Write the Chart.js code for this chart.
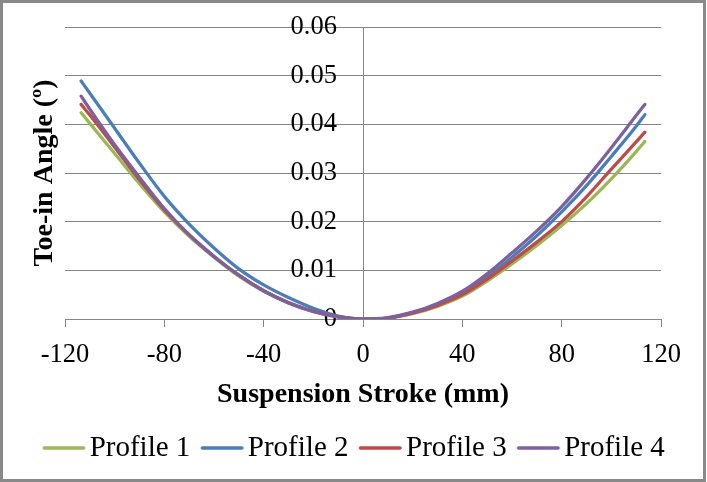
<!DOCTYPE html>
<html><head><meta charset="utf-8">
<script src="https://cdn.jsdelivr.net/npm/chart.js@4.4.0/dist/chart.umd.min.js"></script>
<style>
html,body{margin:0;padding:0;background:#fff;}
#wrap{position:relative;width:707px;height:482px;overflow:hidden;}
#frame{position:absolute;left:0;top:0;width:706px;height:482px;box-sizing:border-box;border:3px solid #898989;pointer-events:none;}
canvas{display:block;}
</style></head><body>
<div id="wrap"><canvas id="c" width="707" height="482"></canvas><div id="frame"></div></div>
<script>
const strokeMm = [-113.5,-110,-100,-90,-80,-70,-60,-50,-40,-30,-20,-10,0,10,20,30,40,50,60,70,80,90,100,110,113.5];
const profile1 = [0.0424,0.0402,0.0340,0.0278,0.0220,0.0170,0.0127,0.0088,0.0057,0.0033,0.0016,0.0005,0.0000,0.0002,0.0011,0.0026,0.0047,0.0078,0.0113,0.0151,0.0192,0.0237,0.0288,0.0344,0.0365];
const profile2 = [0.0489,0.0464,0.0392,0.0320,0.0252,0.0195,0.0146,0.0103,0.0070,0.0044,0.0022,0.0006,0.0000,0.0002,0.0013,0.0030,0.0053,0.0087,0.0127,0.0171,0.0220,0.0274,0.0334,0.0396,0.0420];
const profile3 = [0.0441,0.0419,0.0353,0.0286,0.0224,0.0173,0.0129,0.0090,0.0058,0.0034,0.0016,0.0005,0.0000,0.0002,0.0012,0.0028,0.0050,0.0082,0.0119,0.0158,0.0200,0.0251,0.0308,0.0364,0.0384];
const profile4 = [0.0458,0.0431,0.0358,0.0291,0.0227,0.0173,0.0128,0.0090,0.0058,0.0033,0.0015,0.0004,0.0000,0.0003,0.0014,0.0032,0.0057,0.0093,0.0136,0.0181,0.0231,0.0289,0.0352,0.0418,0.0441];
const seriesNames = ['Profile 1','Profile 2','Profile 3','Profile 4'];
const seriesColors = ['#98B954','#4A7EBB','#BE4B48','#7D60A0'];
const xTicks = [-120,-80,-40,0,40,80,120];
const yTicks = [0,0.01,0.02,0.03,0.04,0.05,0.06];

const FONT = '"Liberation Serif", "Times New Roman", serif';
const GRID = '#868686';
const LEGEND_FONT = 29;
const allSeries = [profile1, profile2, profile3, profile4];
const drawOrder = [3, 2, 1, 0];

// legend swatch: a line placed at the left of the legend box
function swatch(color) {
  const c = document.createElement('canvas');
  c.width = 60; c.height = 8;
  const g = c.getContext('2d');
  g.strokeStyle = color; g.lineWidth = 3.5; g.lineCap = 'round';
  g.beginPath(); g.moveTo(15.5, 4); g.lineTo(55, 4); g.stroke();
  return c;
}

const datasets = allSeries.map((vals, k) => ({
  label: seriesNames[k],
  data: strokeMm.map((x, i) => ({x: x, y: vals[i]})),
  borderColor: seriesColors[k],
  backgroundColor: seriesColors[k],
  borderWidth: 3.25,
  pointRadius: 0,
  pointHoverRadius: 0,
  pointStyle: swatch(seriesColors[k]),
  cubicInterpolationMode: 'monotone',
  borderCapStyle: 'round',
  borderJoinStyle: 'round',
  order: drawOrder[k],
  xAxisID: 'x',
  yAxisID: 'y'
}));

new Chart(document.getElementById('c'), {
  type: 'line',
  data: { datasets },
  options: {
    responsive: false,
    animation: false,
    devicePixelRatio: 1,
    layout: { padding: { top: 27, bottom: 9.5, left: 0, right: 0 } },
    plugins: {
      tooltip: { enabled: false },
      legend: {
        position: 'bottom',
        align: 'center',
        labels: {
          usePointStyle: true,
          pointStyleWidth: 33,
          padding: 10,
          color: '#000',
          font: { family: FONT, size: LEGEND_FONT },
          sort: (a, b) => a.datasetIndex - b.datasetIndex
        }
      }
    },
    scales: {
      x: {
        type: 'linear',
        position: 'bottom',
        min: -120, max: 120,
        afterBuildTicks: s => { s.ticks = xTicks.map(v => ({value: v})); },
        ticks: { autoSkip: false, maxRotation: 0, padding: 12, color: '#000', font: { family: FONT, size: 26.5 } },
        grid: { drawOnChartArea: false, drawTicks: true, tickLength: 8, color: GRID, lineWidth: 1 },
        border: { display: true, color: GRID, width: 1 },
        title: { display: true, text: 'Suspension Stroke (mm)', color: '#000',
          font: { family: FONT, size: 28, weight: 'bold' }, padding: { top: -4.6, bottom: 11.7 } }
      },
      y: {
        type: 'linear',
        position: { x: 0 },
        min: 0, max: 0.06,
        afterBuildTicks: s => { s.ticks = yTicks.map(v => ({value: v})); },
        ticks: { display: false },
        grid: { drawTicks: false, color: GRID, lineWidth: 1 },
        border: { display: true, color: GRID, width: 1 }
      },
      yLbl: {
        type: 'linear', axis: 'y',
        position: { x: -10.5 },
        min: 0, max: 0.06,
        afterBuildTicks: s => { s.ticks = yTicks.map(v => ({value: v})); },
        ticks: { color: '#000', font: { family: FONT, size: 26.5 } },
        grid: { display: false, drawTicks: false },
        border: { display: false }
      },
      yT: {
        type: 'linear', axis: 'y', position: 'left',
        ticks: { display: false },
        grid: { display: false, drawTicks: false },
        border: { display: false },
        title: { display: true, text: 'Toe-in Angle (º)', color: '#000',
          font: { family: FONT, size: 28, weight: 'bold' }, padding: { top: 28, bottom: 0 } },
        afterFit: s => { s.width = 65; }
      },
      yR: {
        type: 'linear', axis: 'y', position: 'right',
        ticks: { display: false },
        grid: { display: false, drawTicks: false },
        border: { display: false },
        afterFit: s => { s.width = 46; }
      }
    }
  }
});
</script>
</body></html>
